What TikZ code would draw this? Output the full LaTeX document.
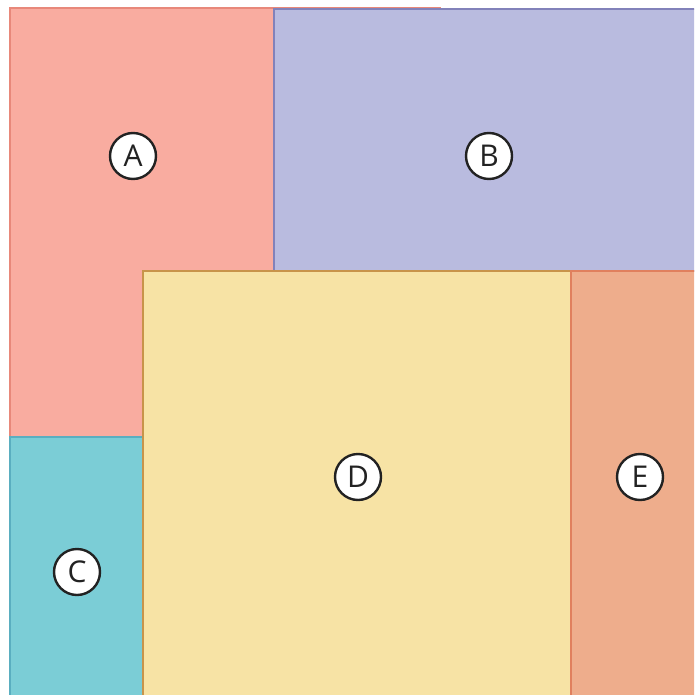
\documentclass[tikz,border=0pt]{standalone}
\usepackage{fontspec}
\setmainfont{Open Sans}
\definecolor{fA}{HTML}{F9ACA0}\definecolor{bA}{HTML}{E8887A}
\definecolor{fB}{HTML}{B9BBDF}\definecolor{bB}{HTML}{8282BA}
\definecolor{fC}{HTML}{7BCDD6}\definecolor{bC}{HTML}{5AAEC0}
\definecolor{fD}{HTML}{F7E3A5}\definecolor{bD}{HTML}{C8944A}
\definecolor{fE}{HTML}{EEAD8C}\definecolor{bE}{HTML}{E0805E}
\definecolor{ink}{HTML}{222222}
\tikzset{
  region/.style={rectangle,anchor=north west,inner sep=0pt,outer sep=0pt,line width=1.6pt},
  tag/.style={circle,draw=ink,fill=white,line width=2.4pt,minimum size=46pt,inner sep=0pt,
    font=\fontsize{30}{30}\selectfont,text=ink}
}
\begin{document}
\begin{tikzpicture}[x=1pt,y=-1pt]
\useasboundingbox (0,0) rectangle (694,695);
\clip (0,0) rectangle (694,695);
\node[region,fill=fA,draw=bA,minimum width=430pt,minimum height=429pt] (A) at (10,8) {};
\node[region,fill=fB,draw=bB,minimum width=430pt,minimum height=262pt] (B) at (274,9) {};
\node[region,fill=fC,draw=bC,minimum width=133pt,minimum height=270pt] (C) at (10,437) {};
\node[region,fill=fD,draw=bD,minimum width=428pt,minimum height=440pt] (D) at (143,271) {};
\node[region,fill=fE,draw=bE,minimum width=140pt,minimum height=440pt] (E) at (571,271) {};
\node[tag] (lA) at (133,156) {A};
\node[tag] (lB) at (489,156) {B};
\node[tag] (lC) at (77,572) {C};
\node[tag] (lD) at (358,477) {D};
\node[tag] (lE) at (640,477) {E};
\end{tikzpicture}
\end{document}
